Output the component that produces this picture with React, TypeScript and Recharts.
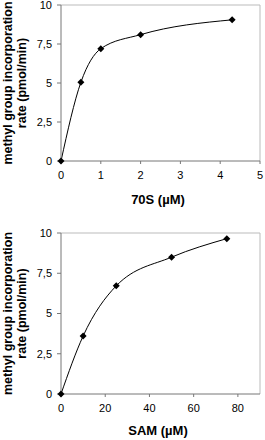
import React from 'react'
import { LineChart, Line, XAxis, YAxis, ReferenceLine, Label } from 'recharts'

// 70S titration
const ribosomeConc = [0, 0.5, 1, 2, 4.3]
const ribosomeRate = [0, 5.05, 7.2, 8.1, 9.05]
const ribosomeTicks = [0, 1, 2, 3, 4, 5]

// SAM titration
const samConc = [0, 10, 25, 50, 75]
const samRate = [0, 3.6, 6.72, 8.5, 9.65]
const samTicks = [0, 20, 40, 60, 80]

const rateTicks = [0, 2.5, 5, 7.5, 10]

const font = 'Arial, "Liberation Sans", sans-serif'
const fmt = (v: number) => String(v).replace('.', ',')

const Diamond = (props: any) => {
  const { cx, cy } = props
  if (cx == null || cy == null) return null
  const s = 3.5
  return (
    <polygon
      points={`${cx},${cy - s} ${cx + s},${cy} ${cx},${cy + s} ${cx - s},${cy}`}
      fill="#000"
    />
  )
}

function YTitle({ cy }: { cy: number }) {
  return (
    <g fontFamily={font} fontWeight="bold" fontSize={12.5} fill="#000">
      <text transform={`translate(11.5, ${cy}) rotate(-90)`} textAnchor="middle">
        methyl group incorporation
      </text>
      <text transform={`translate(25.5, ${cy}) rotate(-90)`} textAnchor="middle">
        rate (pmol/min)
      </text>
    </g>
  )
}

type PanelProps = {
  xs: number[]
  ys: number[]
  xTicks: number[]
  xMax: number
  xTitle: string
  top: number
  bottom: number
  titleY: number
}

function Panel({ xs, ys, xTicks, xMax, xTitle, top, bottom, titleY }: PanelProps) {
  const data = xs.map((x, i) => ({ x, y: ys[i] }))
  const plotMid = (top + (220 - bottom - 30)) / 2
  return (
    <LineChart width={265} height={220} data={data} margin={{ top, right: 5, bottom, left: 0 }}>
      <XAxis
        dataKey="x"
        type="number"
        domain={[0, xMax]}
        ticks={xTicks}
        tickSize={3}
        tickMargin={7}
        stroke="#777"
        tick={{ fill: '#000', fontSize: 11, fontFamily: font }}
        interval={0}
      >
        <Label
          content={() => (
            <text x={158} y={titleY} textAnchor="middle" fontFamily={font} fontWeight="bold" fontSize={13}>
              {xTitle}
            </text>
          )}
        />
      </XAxis>
      <YAxis
        type="number"
        domain={[0, 10]}
        ticks={rateTicks}
        width={61}
        tickSize={4}
        tickMargin={5}
        stroke="#777"
        tickFormatter={fmt}
        tick={{ fill: '#000', fontSize: 11, fontFamily: font }}
        interval={0}
      >
        <Label content={() => <YTitle cy={plotMid} />} />
      </YAxis>
      <ReferenceLine y={10} stroke="#bbb" />
      <ReferenceLine x={xMax} stroke="#bbb" />
      <Line
        type="monotone"
        dataKey="y"
        stroke="#000"
        strokeWidth={1}
        dot={<Diamond />}
        isAnimationActive={false}
      />
    </LineChart>
  )
}

export default function App() {
  return (
    <div style={{ position: 'absolute', left: 0, top: 0, width: 265, height: 440, background: '#fff' }}>
      <Panel
        xs={ribosomeConc}
        ys={ribosomeRate}
        xTicks={ribosomeTicks}
        xMax={5}
        xTitle="70S (µM)"
        top={5}
        bottom={29}
        titleY={203.5}
      />
      <Panel
        xs={samConc}
        ys={samRate}
        xTicks={samTicks}
        xMax={90}
        xTitle="SAM (µM)"
        top={13}
        bottom={16}
        titleY={214.5}
      />
    </div>
  )
}
